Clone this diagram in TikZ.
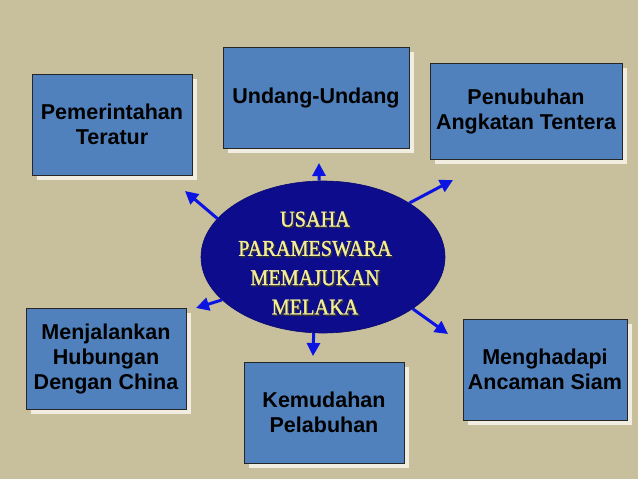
\documentclass[tikz,border=0pt]{standalone}
\usepackage{fontspec}
\setmainfont{Liberation Sans}
\newfontfamily\titlefont[FakeStretch=0.9,FakeBold=1.3]{Liberation Serif}
\usetikzlibrary{arrows.meta,shapes.geometric,shadows}
\definecolor{bg}{RGB}{200,191,157}
\definecolor{boxblue}{RGB}{80,129,189}
\definecolor{cream}{RGB}{241,237,225}
\definecolor{navy}{RGB}{12,12,140}
\definecolor{arrowblue}{RGB}{12,20,225}
\definecolor{paleyellow}{RGB}{245,238,150}
\tikzset{
  boxnode/.style={draw=black!85, line width=0.8pt, fill=boxblue,
    minimum width=#1, minimum height=101pt, inner sep=0pt, align=center,
    font=\fontsize{21.5}{25}\selectfont\bfseries,
    drop shadow={shadow xshift=5pt, shadow yshift=-5pt, fill=cream, opacity=1}},
  boxnode/.default=160pt,
  ray/.style={draw=arrowblue, line width=3pt, -{Triangle[length=13pt,width=13pt]}},
  centretext/.style={align=center, font=\fontsize{22.5}{29.3}\selectfont\titlefont}
}
\begin{document}
\begin{tikzpicture}[x=1pt,y=-1pt]
\fill[bg] (0,0) rectangle (638,479);
\useasboundingbox (0,0) rectangle (638,479);

\node[boxnode] (b1) at (112,124.5) {Pemerintahan\\Teratur};
\node[boxnode=186pt] (b2) at (316,97.5) {Undang-Undang};
\node[boxnode=192pt, minimum height=96pt] (b3) at (526,111) {Penubuhan\\Angkatan Tentera};
\node[boxnode] (b4) at (106,358.5) {Menjalankan\\Hubungan\\Dengan China};
\node[boxnode] (b5) at (324,412.5) {Kemudahan\\Pelabuhan};
\node[boxnode=164pt] (b6) at (545,369.5) {Menghadapi\\Ancaman Siam};

\node[ellipse, fill=navy, draw=navy!80!black, line width=0.6pt,
      minimum width=244pt, minimum height=152pt, inner sep=0pt] (E) at (323,257) {};

\node[centretext, text=black!80] (tshadow) at (316.5,264.5) {USAHA\\PARAMESWARA\\MEMAJUKAN\\MELAKA};
\node[centretext, text=paleyellow] (title) at (315,263) {USAHA\\PARAMESWARA\\MEMAJUKAN\\MELAKA};

\coordinate (tUp) at (319,163);
\coordinate (tUR) at (453,180);
\coordinate (tUL) at (185,191);
\coordinate (tLL) at (196,308);
\coordinate (tDn) at (313,356);
\coordinate (tLR) at (448,334);

\draw[ray] (E.93) -- (tUp);
\draw[ray] (E.32) -- (tUR);
\draw[ray] (E.160) -- (tUL);
\draw[ray] (E.203) -- (tLL);
\draw[ray] (E.263) -- (tDn);
\draw[ray] (E.330) -- (tLR);
\end{tikzpicture}
\end{document}
